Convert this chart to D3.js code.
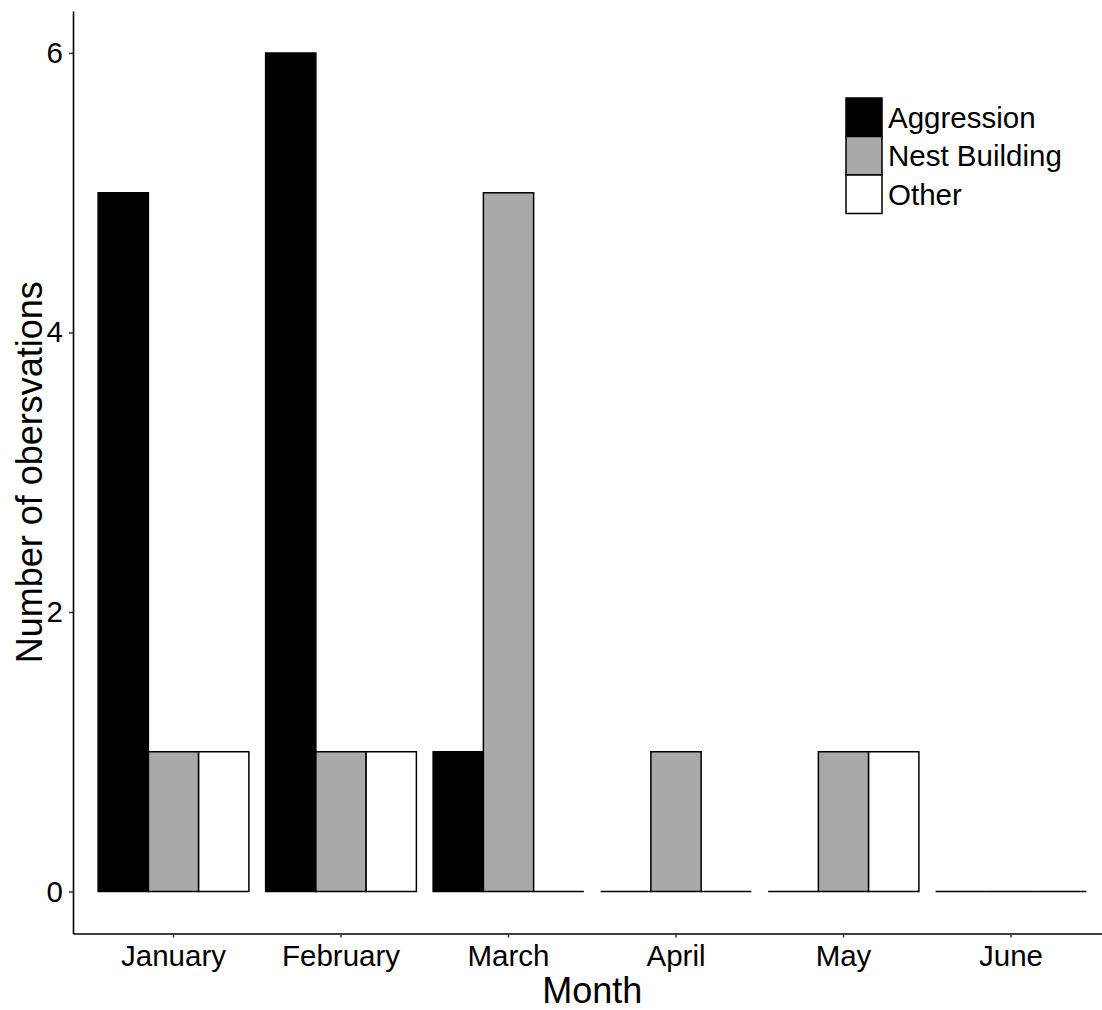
<!DOCTYPE html>
<html>
<head>
<meta charset="utf-8">
<script src="https://cdn.jsdelivr.net/npm/d3@7"></script>
<style>
  html, body { margin: 0; padding: 0; background: #fff; }
  svg { display: block; font-family: "Liberation Sans", Arial, sans-serif; }
</style>
</head>
<body>
<script>
// Monthly observation counts by behaviour type
const months = ["January", "February", "March", "April", "May", "June"];
const behaviours = ["Aggression", "Nest Building", "Other"];
const aggression = [5, 6, 1, 0, 0, 0];
const nestBuilding = [1, 1, 5, 1, 1, 0];
const other = [1, 1, 0, 0, 1, 0];
const yTicks = [0, 2, 4, 6];
const fills = ["#000000", "#a9a9a9", "#ffffff"];

const seriesValues = [aggression, nestBuilding, other];
const rows = months.map((m, i) => ({
  month: m,
  values: behaviours.map((b, j) => ({ key: b, value: seriesValues[j][i] }))
}));

const W = 1102, H = 1010;
const panel = { left: 73, right: 1111.5, top: 11, bottom: 933.5 };

const svg = d3.select("body").append("svg")
  .attr("width", W).attr("height", H);

const x0 = d3.scaleBand()
  .domain(months)
  .range([panel.left, panel.right])
  .paddingInner(0.1)
  .paddingOuter(0.15);

const x1 = d3.scaleBand()
  .domain(behaviours)
  .range([0, x0.bandwidth()]);

const y = d3.scaleLinear()
  .domain([-0.3, 6.3])
  .range([panel.bottom, panel.top]);

const color = d3.scaleOrdinal().domain(behaviours).range(fills);

// Bars drawn as closed outlines so that zero counts still show a baseline stroke
const groups = svg.append("g").selectAll("g")
  .data(rows)
  .join("g")
  .attr("transform", d => `translate(${x0(d.month)},0)`);

groups.selectAll("path")
  .data(d => d.values)
  .join("path")
  .attr("d", d => {
    const xl = x1(d.key), xr = xl + x1.bandwidth();
    const y0 = y(0), yt = y(d.value);
    return `M${xl},${y0}V${yt}H${xr}V${y0}Z`;
  })
  .attr("fill", d => color(d.key))
  .attr("stroke", "#000")
  .attr("stroke-width", 1.5);

// Axes
const fontSize = 29.5;

const yAxis = svg.append("g")
  .attr("transform", `translate(${panel.left},0)`)
  .call(d3.axisLeft(y).tickValues(yTicks).tickFormat(d3.format("d"))
    .tickSize(4).tickSizeOuter(0).tickPadding(6));

const xAxis = svg.append("g")
  .attr("transform", `translate(0,${panel.bottom})`)
  .call(d3.axisBottom(x0).tickSize(4).tickSizeOuter(0).tickPadding(8));

[yAxis, xAxis].forEach(ax => {
  ax.selectAll("path.domain").attr("stroke", "#000").attr("stroke-width", 1.6);
  ax.selectAll(".tick line").attr("stroke", "#333").attr("stroke-width", 1.5);
  ax.selectAll(".tick text")
    .attr("fill", "#000")
    .style("font-size", fontSize + "px")
    .style("font-family", "'Liberation Sans', Arial, sans-serif");
});

// Axis titles
svg.append("text")
  .attr("x", (panel.left + panel.right) / 2)
  .attr("y", 1003)
  .attr("text-anchor", "middle")
  .style("font-size", "36px")
  .text("Month");

svg.append("text")
  .attr("transform", `translate(42,${(panel.top + panel.bottom) / 2}) rotate(-90)`)
  .attr("text-anchor", "middle")
  .style("font-size", "36px")
  .text("Number of obersvations");

// Legend
const legend = svg.append("g").attr("transform", "translate(846,98)");
const keyW = 36, keyH = 38.5;
const items = legend.selectAll("g")
  .data(behaviours)
  .join("g")
  .attr("transform", (d, i) => `translate(0,${i * keyH})`);

items.append("rect")
  .attr("width", keyW)
  .attr("height", keyH)
  .attr("fill", d => color(d))
  .attr("stroke", "#000")
  .attr("stroke-width", 1.5);

items.append("text")
  .attr("x", keyW + 6)
  .attr("y", keyH / 2)
  .attr("dy", "0.35em")
  .style("font-size", fontSize + "px")
  .text(d => d);
</script>
</body>
</html>
